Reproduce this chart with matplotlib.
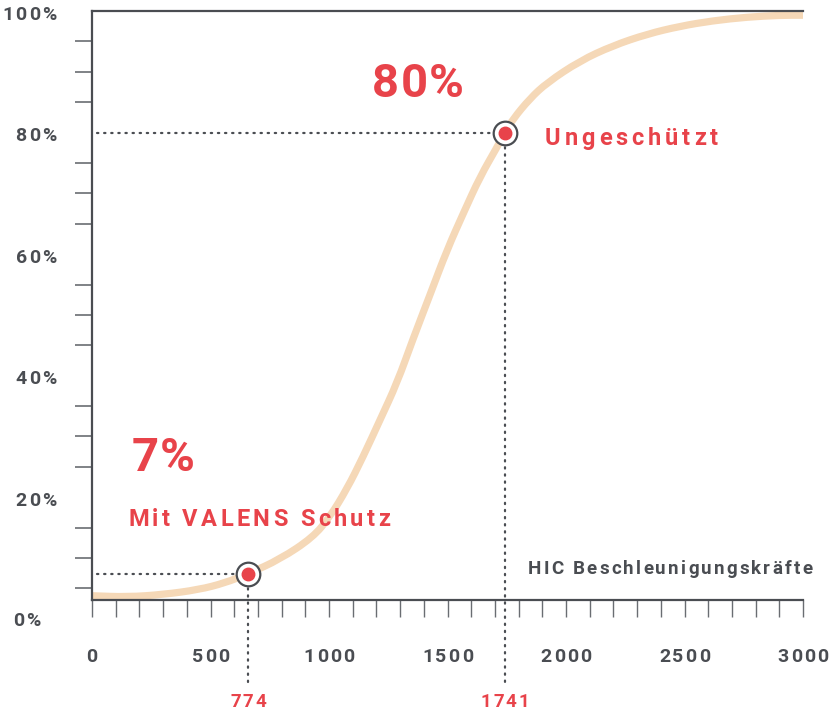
import matplotlib.pyplot as plt
import numpy as np
from matplotlib.path import Path
from matplotlib.patches import PathPatch
from matplotlib.font_manager import FontProperties
from matplotlib.textpath import TextToPath
from matplotlib.transforms import offset_copy

# curve (HIC value -> probability in %)
hic = [0, 150, 300, 450, 560, 658, 793, 932, 1004, 1076, 1143, 1215, 1287, 1354, 1428,
       1498, 1570, 1637, 1709, 1742, 1776, 1848, 1920, 2059, 2198, 2342, 2481, 2620,
       2764, 2903, 3000]
prob = [3.8, 3.6, 4.0, 4.8, 5.9, 7.4, 9.8, 13.4, 16.8, 21.4, 26.6, 32.7, 38.8, 46.0, 53.5,
        60.7, 67.0, 72.7, 77.6, 80.0, 82.2, 85.6, 88.2, 91.8, 94.3, 96.2, 97.5, 98.4,
        99.0, 99.3, 99.3]

# the two highlighted points
point_x = [658, 1742]
point_y = [7.4, 80.0]
point_tick = ['774', '1741']
point_big = ['7%', '80%']
point_name = ['Mit VALENS Schutz', 'Ungeschützt']

x_ticks = [0, 500, 1000, 1500, 2000, 2500, 3000]
x_labels = ['0', '500', '1000', '1500', '2000', '2500', '3000']
y_ticks = [20, 40, 60, 80, 100]
y_labels = ['20%', '40%', '60%', '80%', '100%']

red = '#e8434a'
grey = '#4a4d52'
curve_col = '#f5d8b7'

plt.rcParams['font.family'] = ['Roboto', 'DejaVu Sans']

fig = plt.figure(figsize=(8.32, 7.10), dpi=100)
ax = fig.add_axes([92/832, 1-600/710, 711/832, 589/710])
t2p = TextToPath()


def spaced(x, y, s, size, color, track, ha='left', transform=None, weight='bold'):
    # text with letter spacing (track in points), vertically centred on y
    fp = FontProperties(family='Roboto', weight=weight, size=size)
    width = lambda t: t2p.get_text_width_height_descent(t, fp, ismath=False)[0]
    total = width(s) + (len(s) - 1) * track
    shift = {'left': 0, 'center': -total / 2, 'right': -total}[ha]
    base = transform if transform is not None else ax.transData
    for i, ch in enumerate(s):
        if ch == ' ':
            continue
        pos = width(s[:i + 1]) - width(ch) + i * track + shift
        tr = offset_copy(base, fig=fig, x=pos, y=-0.355 * size, units='points')
        ax.text(x, y, ch, transform=tr, ha='left', va='baseline',
                fontproperties=fp, color=color, clip_on=False)


# smooth curve through the read points (quadratic segments via midpoints)
pts = np.column_stack([hic, prob])
verts = [pts[0], (pts[0] + pts[1]) / 2]
codes = [Path.MOVETO, Path.LINETO]
for i in range(1, len(pts) - 1):
    verts += [pts[i], (pts[i] + pts[i + 1]) / 2]
    codes += [Path.CURVE3, Path.CURVE3]
verts.append(pts[-1])
codes.append(Path.LINETO)
ax.add_patch(PathPatch(Path(verts, codes), fill=False, edgecolor=curve_col, lw=5.2,
                       capstyle='butt', zorder=2))

ax.set_xlim(0, 3000)
ax.set_ylim(3.1, 100)

# spines
for s in ['left', 'bottom', 'top']:
    ax.spines[s].set_color(grey)
    ax.spines[s].set_linewidth(1.6)
ax.spines['right'].set_visible(False)

# ticks
ax.set_xticks(x_ticks)
ax.set_xticks(np.arange(0, 3001, 100), minor=True)
ax.set_xticklabels([])
ax.set_yticks(y_ticks)
ax.set_yticklabels([])
ax.set_yticks(np.arange(5, 100, 5), minor=True)
ax.tick_params(axis='x', which='both', direction='out', length=12.5, width=1,
               color='#6a6d72')
ax.tick_params(axis='y', which='minor', direction='out', length=12.5, width=1.2,
               color='#6a6d72')
ax.tick_params(axis='y', which='major', length=0)

for xt, lab in zip(x_ticks, x_labels):
    spaced(xt, -0.0934, lab, 14, grey, 1.5, ha='center', transform=ax.get_xaxis_transform())
for yt, lab in zip(y_ticks, y_labels):
    spaced(-0.05, yt - 0.3, lab, 14, grey, 1.5, ha='right', transform=ax.get_yaxis_transform())
spaced(-0.111, 0, '0%', 14, grey, 1.5, ha='left', transform=ax.get_yaxis_transform())

# guide lines, markers and labels
for i in range(2):
    ax.plot([21, point_x[i]], [point_y[i], point_y[i]], color=grey, lw=1.6,
            linestyle=(0, (0.6, 2.6)), dash_capstyle='round', zorder=3)
    ax.plot([point_x[i], point_x[i]], [point_y[i], -10.8], color=grey, lw=1.6,
            linestyle=(0, (0.6, 2.6)), dash_capstyle='round', zorder=3, clip_on=False)
    ax.plot(point_x[i], point_y[i], 'o', ms=17, mfc='white', mec=grey, mew=1.6, zorder=4)
    ax.plot(point_x[i], point_y[i], 'o', ms=9, mfc=red, mec=red, zorder=5)
    spaced(point_x[i], -13.4, point_tick[i], 13.5, red, 1.2, ha='center')

spaced(300, 27.0, point_big[0], 34, red, 0.8, ha='center')
spaced(1375, 88.6, point_big[1], 34, red, 0.8, ha='center')
spaced(152, 16.6, point_name[0], 17, red, 2.4)
spaced(1911, 79.4, point_name[1], 17, red, 2.8)
spaced(1840, 8.5, 'HIC Beschleunigungskräfte', 13.5, grey, 1.6)

fig.savefig('out.png', dpi=100)
